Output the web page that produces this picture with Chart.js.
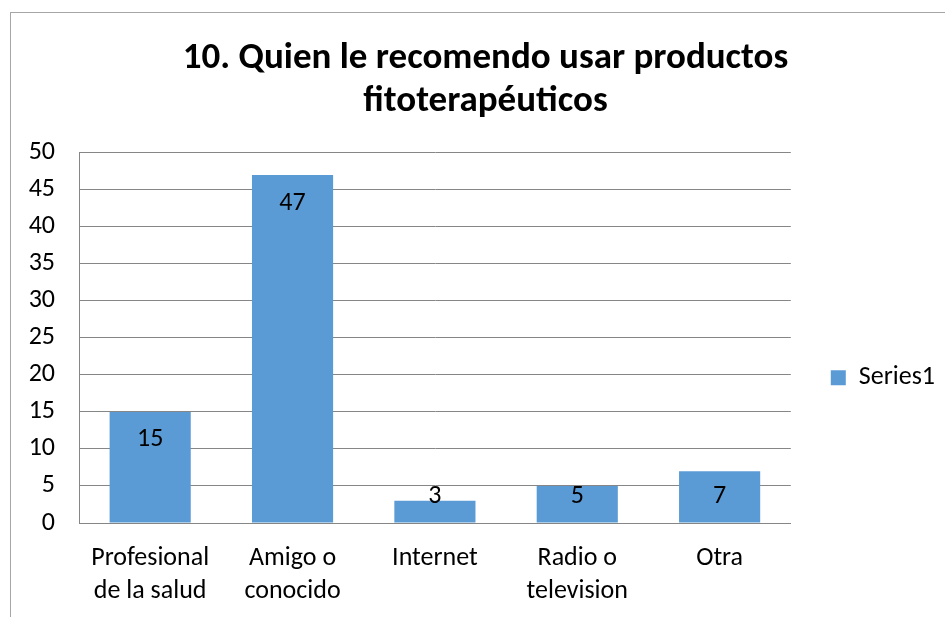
<!DOCTYPE html>
<html>
<head>
<meta charset="utf-8">
<script src="https://cdn.jsdelivr.net/npm/chart.js@4"></script>
<style>
  body { margin: 0; background: #fff; }
  #wrap { width: 945px; height: 617px; }
</style>
</head>
<body>
<div id="wrap"><canvas id="RecomendoPlot"></canvas></div>
<script>
const categories = [['Profesional', 'de la salud'], ['Amigo o', 'conocido'], 'Internet', ['Radio o', 'television'], 'Otra']
const series1 = [15, 47, 3, 5, 7]
const titleLines = ['10. Quien le recomendo usar productos', 'fitoterapéuticos']

const FONT = "Carlito, Lato, 'Liberation Sans', sans-serif"

// marco del grafico (sale fuera de la imagen por la derecha y abajo)
const framePlugin = {
    id: 'frame',
    beforeDraw(chart) {
        const ctx = chart.ctx
        ctx.save()
        ctx.strokeStyle = '#a6a6a6'
        ctx.lineWidth = 1
        ctx.strokeRect(10.5, 12.5, 1200, 1200)
        ctx.restore()
    }
}

// etiquetas de valor dentro de la barra, como en Excel
const valueLabels = {
    id: 'valueLabels',
    afterDatasetsDraw(chart) {
        const ctx = chart.ctx
        const meta = chart.getDatasetMeta(0)
        ctx.save()
        ctx.font = '26px ' + FONT
        ctx.fillStyle = '#000'
        ctx.textAlign = 'center'
        ctx.textBaseline = 'middle'
        meta.data.forEach((bar, i) => {
            const y = Math.min(bar.y + 28, bar.base - 26)
            ctx.fillText(series1[i], bar.x, y)
        })
        ctx.restore()
    }
}

new Chart(document.getElementById('RecomendoPlot'), {
    type: 'bar',
    data: {
        labels: categories,
        datasets: [{
            label: 'Series1',
            data: series1,
            backgroundColor: '#5b9bd5',
            borderWidth: 0,
            categoryPercentage: 1,
            barPercentage: 0.57
        }]
    },
    options: {
        responsive: true,
        maintainAspectRatio: false,
        animation: false,
        layout: { padding: { left: 26, right: 0, top: 0, bottom: 0 } },
        plugins: {
            title: {
                display: true,
                text: titleLines,
                color: '#000',
                font: { family: FONT, size: 37, weight: 'bold', lineHeight: 1.16 },
                padding: { top: 37, bottom: 30 }
            },
            legend: {
                position: 'right',
                // titulo vacio, solo para bajar la leyenda como en el original
                title: {
                    display: true,
                    text: '',
                    font: { size: 12 },
                    padding: { top: 124, bottom: 0 }
                },
                labels: {
                    color: '#000',
                    font: { family: FONT, size: 26 },
                    boxWidth: 15,
                    boxHeight: 15,
                    padding: 10
                }
            },
            tooltip: { enabled: false }
        },
        scales: {
            x: {
                afterFit(scale) { scale.height = 94 },
                grid: { display: false, drawTicks: false },
                border: { color: '#868686' },
                ticks: {
                    color: '#000',
                    font: { family: FONT, size: 26, lineHeight: 1.27 },
                    padding: 19,
                    maxRotation: 0
                }
            },
            y: {
                min: 0,
                max: 50,
                afterFit(scale) { scale.width = 53 },
                ticks: {
                    stepSize: 5,
                    color: '#000',
                    font: { family: FONT, size: 26 },
                    padding: 24
                },
                grid: { color: '#868686', drawTicks: false },
                border: { color: '#868686' }
            },
            // eje vacio: solo deja hueco entre el grafico y la leyenda
            gap: {
                type: 'linear',
                position: 'right',
                afterFit(scale) { scale.width = 30 },
                ticks: { display: false },
                grid: { display: false, drawTicks: false },
                border: { display: false }
            }
        }
    },
    plugins: [framePlugin, valueLabels]
})
</script>
</body>
</html>
